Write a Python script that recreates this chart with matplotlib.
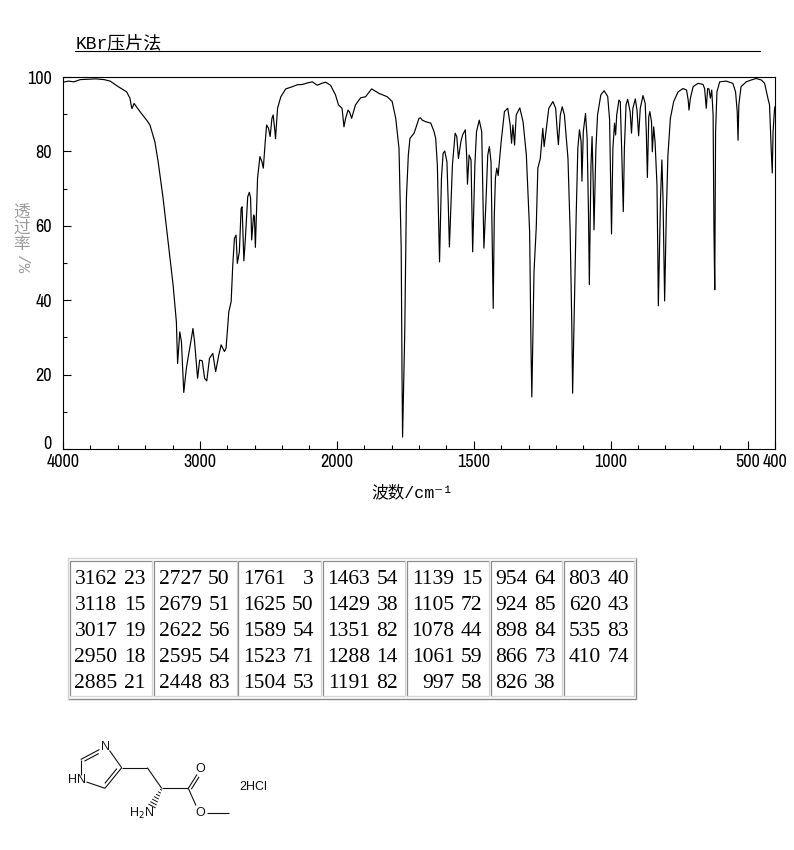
import numpy as np
import matplotlib
matplotlib.use('Agg')
import matplotlib.pyplot as plt
from matplotlib import font_manager as fm
from matplotlib.ticker import FixedLocator, FixedFormatter, NullFormatter

# ---------------- data ----------------
wavenumber = [4000, 3960, 3920, 3874, 3820, 3760, 3700, 3656, 3596, 3535, 3511, 3500, 3496, 3481,
              3438, 3389, 3365, 3329, 3305, 3269, 3232, 3196, 3172, 3163, 3147, 3135, 3118, 3099,
              3087, 3062, 3051, 3039, 3017, 3002, 2983, 2966, 2950, 2930, 2906, 2885, 2862, 2845,
              2821, 2809, 2789, 2772, 2760, 2748, 2736, 2727, 2712, 2699, 2692, 2679, 2668, 2651,
              2639, 2630, 2622, 2608, 2602, 2595, 2579, 2562, 2547, 2537, 2523, 2513, 2499, 2487,
              2474, 2465, 2452, 2448, 2433, 2409, 2373, 2324, 2290, 2252, 2215, 2179, 2160, 2143,
              2110, 2082, 2046, 2010, 1994, 1981, 1974, 1968, 1959, 1953, 1946, 1932, 1913, 1895,
              1873, 1846, 1816, 1798, 1785, 1773, 1765, 1762, 1760, 1752, 1746, 1739, 1733, 1718,
              1712, 1700, 1694, 1688, 1676, 1657, 1645, 1639, 1633, 1628, 1625, 1618, 1612, 1606,
              1598, 1593, 1589, 1583, 1578, 1568, 1562, 1556, 1547, 1541, 1531, 1526, 1523, 1517,
              1510, 1506, 1504, 1496, 1490, 1480, 1471, 1466, 1463, 1456, 1449, 1443, 1437, 1433,
              1429, 1425, 1421, 1416, 1411, 1400, 1388, 1376, 1367, 1362, 1357, 1351, 1345, 1332,
              1320, 1308, 1296, 1291, 1288, 1280, 1272, 1266, 1257, 1248, 1243, 1235, 1226, 1211,
              1201, 1195, 1191, 1184, 1177, 1169, 1156, 1148, 1142, 1139, 1132, 1126, 1120, 1114,
              1108, 1105, 1100, 1092, 1086, 1081, 1078, 1072, 1068, 1064, 1061, 1054, 1048, 1036,
              1024, 1011, 1004, 1000, 997, 992, 986, 982, 978, 970, 965, 960, 954, 950, 944, 938,
              929, 924, 919, 910, 904, 898, 892, 882, 874, 870, 866, 861, 857, 851, 848, 843, 838,
              831, 828, 826, 818, 813, 809, 805, 803, 797, 791, 782, 770, 754, 736, 723, 717, 714,
              709, 699, 681, 663, 657, 651, 646, 641, 636, 631, 626, 623, 620, 617, 612, 602, 578,
              554, 544, 538, 535, 532, 524, 505, 487, 469, 450, 438, 426, 420, 414, 410, 407, 402,
              400]
transmittance = [98.6, 98.9, 98.7, 99.3, 99.4, 99.5, 99.3, 98.9, 97.4, 96.0, 94.3, 92.0, 91.5, 92.9,
                 90.7, 88.4, 87.1, 82.6, 77.2, 67.4, 55.7, 44.1, 34.2, 23.0, 31.5, 28.8, 15.2, 21.7,
                 24.4, 29.8, 32.4, 28.8, 19.0, 23.9, 23.7, 19.0, 18.3, 24.4, 25.7, 20.8, 25.3, 28.0,
                 26.2, 27.1, 36.9, 39.6, 49.5, 56.6, 57.5, 49.9, 53.0, 64.7, 65.1, 50.6, 56.6, 67.8,
                 69.0, 67.5, 56.2, 62.9, 62.5, 54.2, 72.8, 78.6, 77.2, 75.5, 82.6, 87.1, 86.2, 84.0,
                 88.9, 89.8, 85.3, 83.4, 91.6, 94.7, 96.8, 97.4, 97.9, 98.0, 98.4, 98.7, 98.2, 97.8,
                 98.3, 98.6, 97.8, 95.2, 92.5, 91.6, 86.6, 88.9, 91.1, 90.5, 88.9, 92.5, 94.4, 94.7,
                 96.8, 95.6, 94.7, 93.4, 88.9, 80.8, 54.0, 19.9, 3.2, 31.5, 67.4, 79.0, 83.5, 84.9,
                 86.2, 88.9, 89.0, 88.4, 88.0, 87.6, 85.3, 83.5, 76.3, 60.2, 50.3, 72.8, 79.5, 80.1,
                 77.2, 65.6, 54.3, 66.5, 76.3, 84.9, 84.0, 78.1, 82.6, 84.4, 85.8, 79.0, 71.2, 79.0,
                 77.7, 61.1, 53.0, 76.3, 85.3, 88.4, 85.3, 65.6, 54.0, 65.6, 79.0, 81.3, 77.2, 58.4,
                 37.8, 62.9, 72.8, 75.5, 73.5, 82.6, 90.7, 91.6, 87.1, 82.2, 87.1, 81.7, 89.8, 91.7,
                 88.0, 79.0, 58.4, 27.1, 14.0, 47.7, 59.3, 75.5, 78.1, 86.2, 81.3, 86.2, 91.6, 93.4,
                 91.6, 85.3, 81.8, 89.8, 92.0, 89.8, 78.1, 58.4, 33.3, 15.0, 40.5, 62.9, 80.8, 85.8,
                 82.6, 72.0, 85.3, 90.2, 83.5, 62.9, 44.2, 76.3, 84.0, 71.9, 58.9, 80.8, 89.8, 95.2,
                 96.3, 94.8, 88.5, 70.0, 57.8, 80.8, 87.6, 84.4, 89.8, 93.8, 93.4, 80.8, 63.8, 80.8, 92.5, 94.0,
                 90.7, 84.9, 91.6, 94.1, 91.1, 84.2, 91.6, 95.0, 92.9, 85.3, 73.0, 89.3, 90.7, 88.0, 79.9, 86.6, 82.6,
                 71.0, 53.0, 38.5, 67.4, 77.7, 67.4, 49.5, 39.8, 62.9, 79.0, 88.9, 93.4, 96.0, 96.9, 96.5, 93.8, 91.1,
                 94.3, 97.4, 98.3, 98.0, 96.9, 91.6, 96.9, 96.8, 94.3, 96.5, 89.8, 59.3, 42.8, 85.3, 96.0, 98.7, 98.9,
                 98.3, 96.0, 90.7, 83.0, 92.5, 97.4, 98.7, 99.2, 99.6, 99.2, 98.3, 94.3, 92.5, 80.8, 74.2, 85.3, 91.1,
                 92.0]

peak_wavenumbers = [3162, 3118, 3017, 2950, 2885,
                    2727, 2679, 2622, 2595, 2448,
                    1761, 1625, 1589, 1523, 1504,
                    1463, 1429, 1351, 1288, 1191,
                    1139, 1105, 1078, 1061, 997,
                    954, 924, 898, 866, 826,
                    803, 620, 535, 410]
peak_transmittance = [23, 15, 19, 18, 21,
                      50, 51, 56, 54, 83,
                      3, 50, 54, 71, 53,
                      54, 38, 82, 14, 82,
                      15, 72, 44, 59, 58,
                      64, 85, 84, 73, 38,
                      40, 43, 83, 74]

x_major_ticks = [4000, 3000, 2000, 1500, 1000, 500, 400]
x_major_labels = ['4000', '3000', '2000', '1500', '1000', '500', '400']
x_minor_ticks = [3800, 3600, 3400, 3200, 2800, 2600, 2400, 2200,
                 1900, 1800, 1700, 1600, 1400, 1300, 1200, 1100, 900, 800, 700, 600]
y_major_ticks = [0, 20, 40, 60, 80, 100]
y_minor_ticks = [10, 30, 50, 70, 90]

title_text = 'KBr压片法'
xlabel_text = '波数/cm⁻¹'
ylabel_cjk = '透过率'
ylabel_unit = '/%'
salt_text = '2HCl'

# ---------------- fonts ----------------
names = {f.name for f in fm.fontManager.ttflist}
NARROW = None
for nm in ['Liberation Sans Narrow', 'Arial Narrow', 'Archivo Narrow', 'PT Sans Narrow']:
    if nm in names:
        NARROW = fm.FontProperties(family=nm)
        break
if NARROW is None:
    NARROW = fm.FontProperties(family='DejaVu Sans', stretch='condensed')
CJK = ['Liberation Mono', 'Noto Sans CJK SC', 'DejaVu Sans']

W, H = 794, 850
fig = plt.figure(figsize=(W / 100, H / 100), dpi=100)
fig.patch.set_facecolor('white')

# ---------------- spectrum axes ----------------
L, R, T, B = 63, 775, 77, 449
ax = fig.add_axes([L / W, 1 - B / H, (R - L) / W, (B - T) / H])


def fwd(w):
    w = np.asarray(w, dtype=float)
    return np.where(w >= 2000, w, 2 * w - 2000)


def inv(v):
    v = np.asarray(v, dtype=float)
    return np.where(v >= 2000, v, (v + 2000) / 2)


ax.set_xscale('function', functions=(fwd, inv))
ax.plot(wavenumber, transmittance, color='black', lw=0.85)
ax.set_xlim(4000, 400)
ax.set_ylim(0, 100)

ax.xaxis.set_major_locator(FixedLocator(x_major_ticks))
ax.xaxis.set_major_formatter(FixedFormatter(x_major_labels))
ax.xaxis.set_minor_locator(FixedLocator(x_minor_ticks))
ax.xaxis.set_minor_formatter(NullFormatter())
ax.yaxis.set_major_locator(FixedLocator(y_major_ticks))
ax.yaxis.set_minor_locator(FixedLocator(y_minor_ticks))
ax.yaxis.set_minor_formatter(NullFormatter())

ax.tick_params(which='both', direction='in', top=False, right=False, color='black', width=0.8)
ax.tick_params(which='major', length=5.5)
ax.tick_params(which='minor', length=3)
ax.tick_params(axis='x', which='major', pad=3.5)
ax.tick_params(axis='y', which='major', pad=8)
for lab in ax.get_xticklabels() + ax.get_yticklabels():
    fp = NARROW.copy()
    fp.set_size(13)
    lab.set_fontproperties(fp)
# lift the "0" label so it does not collide with "4000"
ax.yaxis.get_major_ticks()[0].label1.set_va('baseline')
for s in ax.spines.values():
    s.set_linewidth(0.8)
    s.set_color('black')

# ---------------- overlay ----------------
ov = fig.add_axes([0, 0, 1, 1])
ov.set_xlim(0, W)
ov.set_ylim(H, 0)
ov.axis('off')
ov.patch.set_alpha(0)

# title with underline
ov.text(76, 48.5, title_text, family=CJK, fontsize=13, va='baseline', ha='left')
ov.plot([75, 760], [50.5, 50.5], color='black', lw=0.8)

# axis labels
ov.text(412, 492, xlabel_text, family=CJK, fontsize=12, ha='center', va='center')
gray = '#9a9a9a'
for i, ch in enumerate(ylabel_cjk):
    ov.text(21.7, 213 + i * 15.5, ch, family=CJK, fontsize=12, color=gray,
            ha='center', va='center')
ov.text(21.7, 264, ylabel_unit, family=CJK, fontsize=11.5, color=gray,
        rotation=-90, ha='center', va='center')

# ---------------- peak table ----------------
cell_lefts = [70, 154.3, 238.3, 322.5, 407, 490.7, 564]
cell_rights = [152.3, 236.7, 320.5, 405, 489, 562, 634.3]
cell_top, cell_bot = 560.7, 696
ov.plot([68, 636, 636], [698.5, 698.5, 558.3], color='#8c8c8c', lw=1.0)
ov.plot([68, 68, 636], [698.5, 558.3, 558.3], color='#d4d4d4', lw=1.0)
for cl, cr in zip(cell_lefts, cell_rights):
    ov.plot([cl, cl, cr], [cell_bot, cell_top, cell_top], color='#8c8c8c', lw=0.9)
    ov.plot([cl, cr, cr], [cell_bot, cell_bot, cell_top], color='#d4d4d4', lw=0.9)

nrows = 5
baselines = [584 + 26 * r for r in range(nrows)]
for c in range(len(cell_lefts)):
    wn_col = peak_wavenumbers[c * nrows:(c + 1) * nrows]
    t_col = peak_transmittance[c * nrows:(c + 1) * nrows]
    nd = max(len(str(v)) for v in wn_col)
    wn_right = cell_lefts[c] + 5.5 + nd * 10.5
    t_right = wn_right + 28
    for r, (wv, tv) in enumerate(zip(wn_col, t_col)):
        ov.text(wn_right, baselines[r], str(wv), family='Liberation Serif', fontsize=15.5,
                ha='right', va='baseline')
        ov.text(t_right, baselines[r], str(tv), family='Liberation Serif', fontsize=15.5,
                ha='right', va='baseline')

# ---------------- structure ----------------
lw_s = 0.8
kc = '#111111'


def bond(p, q, off=0.0, shrink=0.0):
    p = np.array(p, float)
    q = np.array(q, float)
    d = q - p
    n = np.array([-d[1], d[0]]) / np.hypot(*d)
    a = p + d * shrink + n * off
    b = q - d * shrink + n * off
    ov.plot([a[0], b[0]], [a[1], b[1]], color=kc, lw=lw_s, solid_capstyle='butt')


C2 = (80.7, 759.5)
N3e1 = (99.5, 749.5)
N3e2 = (109.5, 750.5)
C4 = (121.7, 767.7)
C5 = (105.0, 788.3)
N1e = (86.5, 782.0)
C2b = (80.7, 775.0)
CH2 = (147.3, 767.7)
CA = (161.7, 788.3)
CO = (188.3, 788.3)
O1e = (197.0, 774.5)
O2e = (196.0, 805.5)
OMe1 = (206.5, 813.3)
OMe2 = (228.5, 813.3)
Nw = (152.0, 806.0)

bond(C2, N3e1)
bond(C2, N3e1, off=3.2, shrink=0.12)
bond(C4, N3e2)
bond(C5, C4)
bond(C5, C4, off=-3.2, shrink=0.14)
bond(C2, C2b)
bond(N1e, C5)
bond(C4, CH2)
bond(CH2, CA)
bond(CA, CO)
bond(CO, O1e)
bond(CO, O1e, off=3.0, shrink=0.05)
bond(CO, O2e)
bond(OMe1, OMe2)

# hashed wedge
p0 = np.array(CA)
d = np.array(Nw) - p0
u = d / np.hypot(*d)
nv = np.array([-u[1], u[0]])
for t in np.linspace(0.08, 1.0, 7):
    c = p0 + d * t
    hw = 0.4 + 3.2 * t
    ov.plot([c[0] - nv[0] * hw, c[0] + nv[0] * hw], [c[1] - nv[1] * hw, c[1] + nv[1] * hw],
            color=kc, lw=0.7)

lab = dict(family='Liberation Sans', fontsize=9, color=kc, ha='center', va='center')
ov.text(105, 746.5, 'N', **lab)
ov.text(76.7, 780, 'HN', **lab)
ov.text(200, 769, 'O', **lab)
ov.text(200, 813.3, 'O', **lab)
ov.text(141.7, 813.5, r'H$_2$N', **lab)
ov.text(253.5, 787, salt_text, **lab)

fig.savefig('out.png', dpi=100, facecolor='white')
